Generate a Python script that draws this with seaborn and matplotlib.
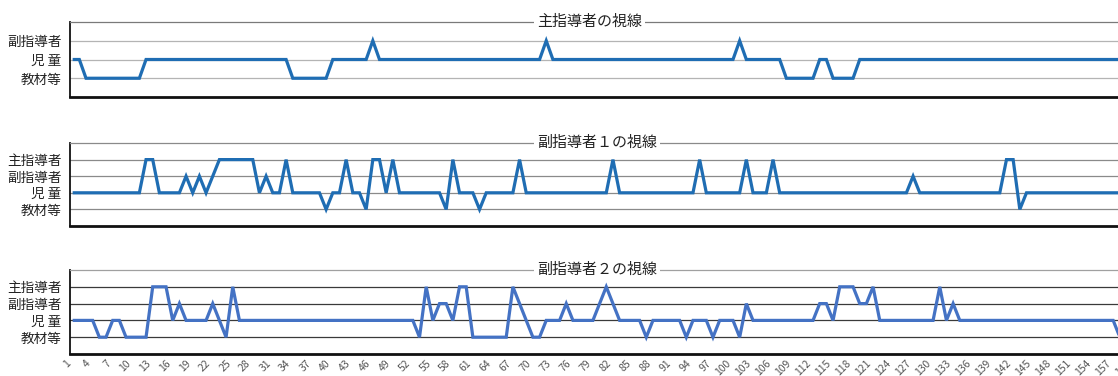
import numpy as np
import pandas as pd
import matplotlib
matplotlib.use("Agg")
import matplotlib.pyplot as plt
import matplotlib.transforms as mtransforms
import seaborn as sns

sns.set_theme(style="white")
plt.rcParams["font.family"] = ["Noto Sans CJK JP", "DejaVu Sans"]

# Time frames (one observation per frame)
frames = list(range(1, 161))

# Gaze targets, listed from bottom to top of each panel
levels_main = ["教材等", "児 童", "副指導者"]
levels_sub = ["教材等", "児 童", "副指導者", "主指導者"]

titles = ["主指導者の視線", "副指導者１の視線", "副指導者２の視線"]

# 1 = 教材等, 2 = 児童, 3 = 副指導者 (main teacher)
gaze_main = [
    2, 2, 1, 1, 1, 1, 1, 1, 1, 1, 1, 2, 2, 2, 2, 2, 2, 2, 2, 2,
    2, 2, 2, 2, 2, 2, 2, 2, 2, 2, 2, 2, 2, 1, 1, 1, 1, 1, 1, 2,
    2, 2, 2, 2, 2, 3, 2, 2, 2, 2, 2, 2, 2, 2, 2, 2, 2, 2, 2, 2,
    2, 2, 2, 2, 2, 2, 2, 2, 2, 2, 2, 3, 2, 2, 2, 2, 2, 2, 2, 2,
    2, 2, 2, 2, 2, 2, 2, 2, 2, 2, 2, 2, 2, 2, 2, 2, 2, 2, 2, 2,
    3, 2, 2, 2, 2, 2, 2, 1, 1, 1, 1, 1, 2, 2, 1, 1, 1, 1, 2, 2,
    2, 2, 2, 2, 2, 2, 2, 2, 2, 2, 2, 2, 2, 2, 2, 2, 2, 2, 2, 2,
    2, 2, 2, 2, 2, 2, 2, 2, 2, 2, 2, 2, 2, 2, 2, 2, 2, 2, 2, 2,
]

# 1 = 教材等, 2 = 児童, 3 = 副指導者, 4 = 主指導者 (assistant 1)
gaze_sub1 = [
    2, 2, 2, 2, 2, 2, 2, 2, 2, 2, 2, 4, 4, 2, 2, 2, 2, 3, 2, 3,
    2, 3, 4, 4, 4, 4, 4, 4, 2, 3, 2, 2, 4, 2, 2, 2, 2, 2, 1, 2,
    2, 4, 2, 2, 1, 4, 4, 2, 4, 2, 2, 2, 2, 2, 2, 2, 1, 4, 2, 2,
    2, 1, 2, 2, 2, 2, 2, 4, 2, 2, 2, 2, 2, 2, 2, 2, 2, 2, 2, 2,
    2, 4, 2, 2, 2, 2, 2, 2, 2, 2, 2, 2, 2, 2, 4, 2, 2, 2, 2, 2,
    2, 4, 2, 2, 2, 4, 2, 2, 2, 2, 2, 2, 2, 2, 2, 2, 2, 2, 2, 2,
    2, 2, 2, 2, 2, 2, 3, 2, 2, 2, 2, 2, 2, 2, 2, 2, 2, 2, 2, 2,
    4, 4, 1, 2, 2, 2, 2, 2, 2, 2, 2, 2, 2, 2, 2, 2, 2, 2, 2, 2,
]

# 1 = 教材等, 2 = 児童, 3 = 副指導者, 4 = 主指導者 (assistant 2)
gaze_sub2 = [
    2, 2, 2, 2, 1, 1, 2, 2, 1, 1, 1, 1, 4, 4, 4, 2, 3, 2, 2, 2,
    2, 3, 2, 1, 4, 2, 2, 2, 2, 2, 2, 2, 2, 2, 2, 2, 2, 2, 2, 2,
    2, 2, 2, 2, 2, 2, 2, 2, 2, 2, 2, 2, 1, 4, 2, 3, 3, 2, 4, 4,
    1, 1, 1, 1, 1, 1, 4, 3, 2, 1, 1, 2, 2, 2, 3, 2, 2, 2, 2, 3,
    4, 3, 2, 2, 2, 2, 1, 2, 2, 2, 2, 2, 1, 2, 2, 2, 1, 2, 2, 2,
    1, 3, 2, 2, 2, 2, 2, 2, 2, 2, 2, 2, 3, 3, 2, 4, 4, 4, 3, 3,
    4, 2, 2, 2, 2, 2, 2, 2, 2, 2, 4, 2, 3, 2, 2, 2, 2, 2, 2, 2,
    2, 2, 2, 2, 2, 2, 2, 2, 2, 2, 2, 2, 2, 2, 2, 2, 2, 1, 1, 1,
]

tick_frames = frames[::3]

W, H = 1118, 376
fig = plt.figure(figsize=(W / 100, H / 100), dpi=100)

x_left, x_right = 0.6, 161.0
px_per_frame = 6.67
ax_left_px = 70
ax_width_px = (x_right - x_left) * px_per_frame

panels = [
    # (values, levels, title, top_px, bottom_px, line colour, grid colour, top colour)
    (gaze_main, levels_main, titles[0], 22, 97, "#1f6db3", "#b4b4b4", "#7a7a7a"),
    (gaze_sub1, levels_sub, titles[1], 143, 226, "#1f6db3", "#8a8a8a", "#8a8a8a"),
    (gaze_sub2, levels_sub, titles[2], 270, 354, "#4472c4", "#3a3a3a", "#a0a0a0"),
]

for i, (vals, levels, title, top, bottom, lc, gc, tc) in enumerate(panels):
    ax = fig.add_axes([ax_left_px / W, 1 - bottom / H, ax_width_px / W, (bottom - top) / H])
    df = pd.DataFrame({"frame": frames, "gaze": vals})
    sns.lineplot(data=df, x="frame", y="gaze", ax=ax, color=lc, linewidth=2.3,
                 solid_joinstyle="miter", solid_capstyle="butt")
    n = len(levels)
    ax.set_xlim(x_left, x_right)
    ax.set_ylim(0, n + 1)
    ax.set_yticks(range(1, n + 1))
    ax.set_yticklabels(levels)
    ax.yaxis.grid(True, color=gc, linewidth=0.9)
    ax.xaxis.grid(False)
    ax.set_xlabel("")
    ax.set_ylabel("")
    ax.tick_params(axis="y", length=0, pad=6, labelsize=9.8, labelcolor="#222222")
    ax.spines["right"].set_visible(False)
    ax.spines["top"].set_color(tc)
    ax.spines["top"].set_linewidth(0.9)
    ax.spines["left"].set_color("#111111")
    ax.spines["left"].set_linewidth(1.3)
    ax.spines["bottom"].set_color("#111111")
    ax.spines["bottom"].set_linewidth(2.0)
    if i < 2:
        ax.set_xticks([])
    else:
        ax.set_xticks(tick_frames)
        ax.set_xticklabels([str(t) for t in tick_frames], rotation=45, ha="right",
                           va="top", rotation_mode="default")
        ax.tick_params(axis="x", length=0, pad=3, labelsize=7.5, labelcolor="#555555")
    trans = mtransforms.blended_transform_factory(fig.transFigure, ax.transAxes)
    ax.text(537 / W, 1.0, title, transform=trans, ha="left", va="center",
            fontsize=10.8, color="#222222", zorder=5,
            bbox=dict(facecolor="white", edgecolor="none", pad=2.5))

fig.savefig("out.png", dpi=100)
